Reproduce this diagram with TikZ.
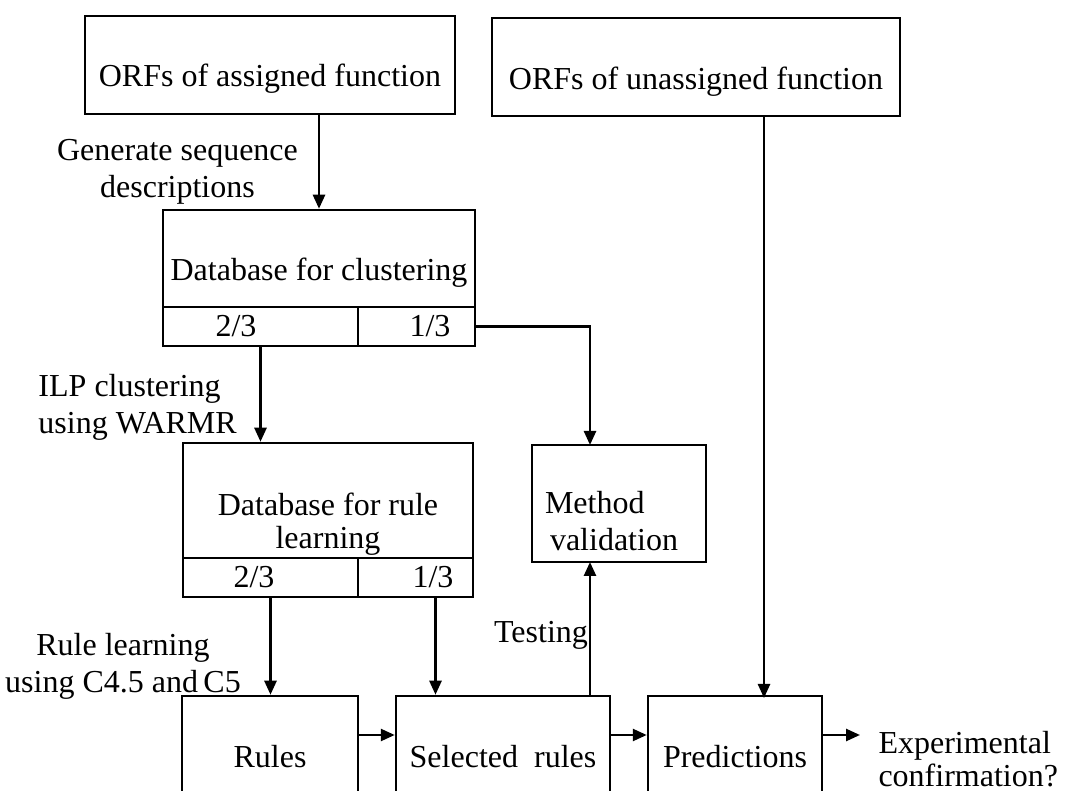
\documentclass[tikz,border=0pt]{standalone}
\usepackage{fontspec}
\setmainfont{Liberation Serif}
\usetikzlibrary{arrows.meta}
\tikzset{
  box/.style={draw, line width=1pt, inner sep=0pt},
  cell/.style={box, minimum height=15.6pt},
  txt/.style={inner sep=0pt, align=center},
  flow/.style={line width=1pt, ->},
  lbl/.style={inner sep=0pt, align=center}
}

\begin{document}
\begin{tikzpicture}[x=0.4pt, y=-0.4pt, >={Triangle[length=5.6pt, width=4.8pt]},
    font=\fontsize{12.8}{14.8}\selectfont]
      \clip (0,0) rectangle (1074,791);

      % input sets
      \node[box, minimum width=148pt, minimum height=39.2pt,
        label={[txt, yshift=-5.4pt]center:ORFs of assigned function}] (assigned) at (270,65) {};
      \node[box, minimum width=163.2pt, minimum height=39.2pt,
        label={[txt, yshift=-6pt]center:ORFs of unassigned function}] (unassigned) at (696,67) {};

      % database for clustering
      \node[box, minimum width=124.8pt, minimum height=38.8pt,
        label={[txt, yshift=-5.6pt]center:Database for clustering}] (dbclus) at (319,258.5) {};
      \node[cell, minimum width=78pt, label={[txt, xshift=-9.8pt]center:2/3}] (dbclusA) at (260.5,326.5) {};
      \node[cell, minimum width=46.8pt, label={[txt, xshift=5.4pt]center:1/3}] (dbclusB) at (416.5,326.5) {};

      % database for rule learning
      \node[box, minimum width=116pt, minimum height=46pt,
        label={[txt, yshift=-9.4pt, font=\fontsize{12.8}{13.2}\selectfont]center:Database for rule\\learning}] (dbrule) at (328,500.5) {};
      \node[cell, minimum width=70pt, label={[txt, xshift=-6.6pt]center:2/3}] (dbruleA) at (270.5,577.5) {};
      \node[cell, minimum width=46pt, label={[txt, xshift=7pt]center:1/3}] (dbruleB) at (415.5,577.5) {};

      \node[box, minimum width=69.6pt, minimum height=46.8pt,
        label={[txt, align=left, xshift=-3pt, yshift=-7.2pt]center:Method\\\hspace{2pt}validation}] (method) at (619,503.5) {};

      % bottom row
      \node[box, minimum width=70.4pt, minimum height=48.8pt] (rules) at (270,757) {Rules};
      \node[box, minimum width=85.6pt, minimum height=48.8pt] (selected) at (503,757) {Selected\ \ rules};
      \node[box, minimum width=69.6pt, minimum height=48.8pt] (predictions) at (735,757) {Predictions};

      % step labels
      \node[lbl] (generate) at (177.5,172) {Generate sequence\\descriptions};
      \node[lbl, anchor=west, align=left] (ilp) at (38,407) {ILP clustering\\using WARMR};
      \node[lbl] (rulelearn) at (123,666) {Rule learning\\using C4.5 and\,C5};
      \node[lbl] (testing) at (541,635) {Testing};
      \node[lbl, anchor=west, align=left, font=\fontsize{12.8}{13.2}\selectfont] (expt) at (878,759) {Experimental\\confirmation?};

      % free ends
      \coordinate (valtop) at (590,445);
      \coordinate (valbot) at (590,562);
      \coordinate (predin) at (764,698);

      % connectors
      \draw[flow] (dbclus.north |- assigned.south) -- (dbclus.north);
      \draw[flow] (dbclusA.south) -- (dbclusA.south |- dbrule.north);
      \draw[flow] (dbclusB.east) -| (valtop);
      \draw[flow] (dbruleA.south) -- (dbruleA.south |- rules.north);
      \draw[flow] ([xshift=8pt]dbruleB.south) -- ([xshift=8pt]dbruleB.south |- selected.north);
      \draw[flow] (selected.north -| valbot) -- (valbot);
      \draw[flow] (unassigned.south -| predin) -- (predin);
      \draw[flow] ([yshift=8.8pt]rules.east) -- ([yshift=8.8pt]rules.east -| selected.west);
      \draw[flow] ([yshift=8.8pt]selected.east) -- ([yshift=8.8pt]selected.east -| predictions.west);
      \draw[flow] ([yshift=8.8pt]predictions.east) -- ([yshift=8.8pt,xshift=-7.2pt]predictions.east -| expt.west);
\end{tikzpicture}
\end{document}
